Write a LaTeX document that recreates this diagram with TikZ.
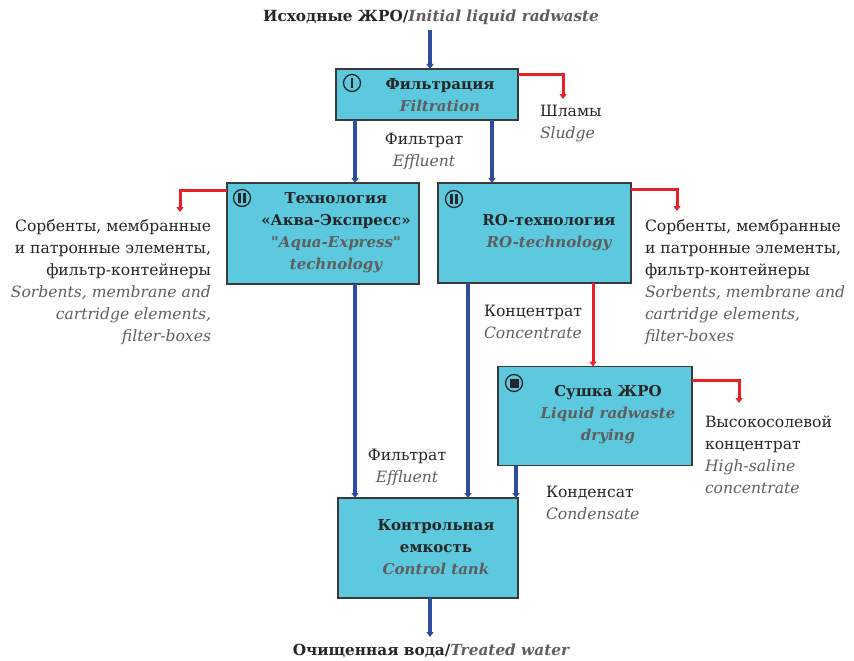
\documentclass[tikz,border=0pt]{standalone}
\usepackage{fontspec}
\setmainfont{DejaVu Serif}[Ligatures=TeXOff]
\usetikzlibrary{arrows.meta,calc}
\definecolor{boxfill}{HTML}{5CC9DF}
\definecolor{boxline}{HTML}{3A3A3A}
\definecolor{flowblue}{HTML}{2F4DA0}
\definecolor{flowred}{HTML}{E8202A}
\definecolor{rutext}{HTML}{262626}
\definecolor{entext}{HTML}{5E5E5E}
\newcommand{\en}[1]{{\itshape\color{entext}#1}}
\begin{document}
\begin{tikzpicture}[x=1pt,y=-1pt,
  every node/.style={font=\fontsize{15.6}{22}\selectfont, text=rutext, inner sep=0pt, outer sep=0pt},
  procbox/.style={draw=boxline, line width=1.3pt, fill=boxfill},
  boxtext/.style={align=center, font=\fontsize{15}{22}\selectfont\bfseries},
  lbl/.style={align=left, anchor=west},
  lblr/.style={align=right, anchor=east},
  lblc/.style={align=center},
  bflow/.style={draw=flowblue, line width=3.6pt, -{Triangle[length=5pt,width=7pt]}},
  rflow/.style={draw=flowred, line width=3pt, -{Triangle[length=5pt,width=7pt]}},
  numcirc/.style={circle, draw=rutext, line width=1.3pt, minimum size=17pt}
]
\useasboundingbox (0,0) rectangle (854,661);

% boxes
\node[procbox, minimum width=182pt, minimum height=51pt] (filt) at (427,94.5) {};
\node[procbox, minimum width=192pt, minimum height=101pt] (aqua) at (323,233.5) {};
\node[procbox, minimum width=193pt, minimum height=100pt] (ro) at (534.5,233) {};
\node[procbox, minimum width=194pt, minimum height=99pt] (dry) at (595,416) {};
\node[procbox, minimum width=180pt, minimum height=100pt] (tank) at (428,548) {};

% box texts
\node[boxtext] (filtT) at (440,95) {Фильтрация\\\en{Filtration}};
\node[boxtext] (aquaT) at (336,233) {Технология\\«Аква-Экспресс»\\\en{"Aqua-Express"}\\\en{technology}};
\node[boxtext] (roT) at (549,233) {RO-технология\\\en{RO-technology}};
\node[boxtext] (dryT) at (608,415) {Сушка ЖРО\\\en{Liquid radwaste}\\\en{drying}};
\node[boxtext] (tankT) at (436,547) {Контрольная\\емкость\\\en{Control tank}};

% number circles
\node[numcirc] (c1) at (352,83) {};
\fill[rutext] ([xshift=-1.3pt,yshift=-5pt]c1.center) rectangle ++(2.6pt,10pt);
\node[numcirc] (c2) at (242,198) {};
\fill[rutext] ([xshift=-3.6pt,yshift=-5pt]c2.center) rectangle ++(2.6pt,10pt);
\fill[rutext] ([xshift=1pt,yshift=-5pt]c2.center) rectangle ++(2.6pt,10pt);
\node[numcirc] (c3) at (454,199) {};
\fill[rutext] ([xshift=-3.6pt,yshift=-5pt]c3.center) rectangle ++(2.6pt,10pt);
\fill[rutext] ([xshift=1pt,yshift=-5pt]c3.center) rectangle ++(2.6pt,10pt);
\node[numcirc] (c4) at (514,383) {};
\fill[rutext] ([xshift=-4.5pt,yshift=-4.5pt]c4.center) rectangle ++(9pt,9pt);

% title texts
\node[font=\fontsize{15.3}{22}\selectfont\bfseries] (inT) at (431,17) {Исходные ЖРО/\en{Initial liquid radwaste}};
\node[font=\fontsize{15.3}{22}\selectfont\bfseries] (outT) at (431,651) {Очищенная вода/\en{Treated water}};

% labels
\node[lbl] (sludge) at (540,124) {Шламы\\\en{Sludge}};
\node[lblc] (eff1) at (424,151) {Фильтрат\\\en{Effluent}};
\node[lblr] (waste1) at (211,282) {Сорбенты, мембранные\\и патронные элементы,\\фильтр-контейнеры\\\en{Sorbents, membrane and}\\\en{cartridge elements,}\\\en{filter-boxes}};
\node[lbl] (waste2) at (645,282) {Сорбенты, мембранные\\и патронные элементы,\\фильтр-контейнеры\\\en{Sorbents, membrane and}\\\en{cartridge elements,}\\\en{filter-boxes}};
\node[lbl] (conc) at (484,322) {Концентрат\\\en{Concentrate}};
\node[lbl] (salt) at (705,455) {Высокосолевой\\концентрат\\\en{High-saline}\\\en{concentrate}};
\node[lblc] (eff2) at (407,467) {Фильтрат\\\en{Effluent}};
\node[lbl] (cond) at (546,503) {Конденсат\\\en{Condensate}};

% coordinates for free ends
\coordinate (inArr) at (430,30);
\coordinate (outArr) at (430,637);
\coordinate (sl) at (563,99);
\coordinate (w1) at (180,212);
\coordinate (w2) at (677,211);
\coordinate (sa) at (739,403);

% blue flows
\draw[bflow] (inArr) -- (inArr |- filt.north);
\draw[bflow] ([xshift=19pt]filt.south west) -- ([xshift=19pt]filt.south west |- aqua.north);
\draw[bflow] ([xshift=-26pt]filt.south east) -- ([xshift=-26pt]filt.south east |- ro.north);
\draw[bflow] ([xshift=128pt]aqua.south west) -- ([xshift=128pt]aqua.south west |- tank.north);
\draw[bflow] ([xshift=30pt]ro.south west) -- ([xshift=30pt]ro.south west |- tank.north);
\draw[bflow] ([xshift=18pt]dry.south west) -- ([xshift=18pt]dry.south west |- tank.north);
\draw[bflow] (outArr |- tank.south) -- (outArr);

% red flows
\draw[rflow] ([yshift=-6pt]filt.north east) -| (sl);
\draw[rflow] ([yshift=-7pt]aqua.north west) -| (w1);
\draw[rflow] ([yshift=-6pt]ro.north east) -| (w2);
\draw[rflow] ([yshift=-14pt]dry.north east) -| (sa);
\draw[rflow] ([xshift=155pt]ro.south west) -- ([xshift=155pt]ro.south west |- dry.north);
\end{tikzpicture}
\end{document}
